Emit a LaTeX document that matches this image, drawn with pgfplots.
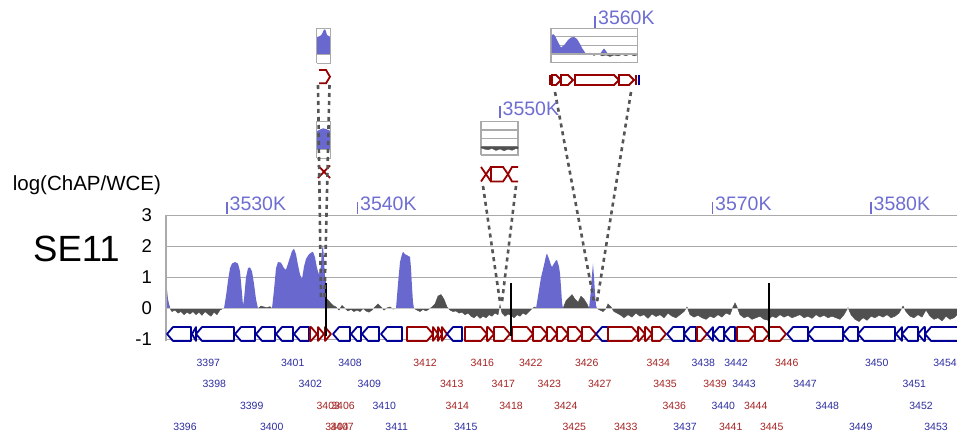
\documentclass[border=0pt]{standalone}
\usepackage{pgfplots}
\pgfplotsset{compat=1.18}
\usepackage{fontspec}
\setmainfont{Liberation Sans}
\definecolor{sigblue}{RGB}{104,104,206}
\definecolor{tickblue}{RGB}{110,110,210}
\definecolor{sigGray}{RGB}{80,80,80}
\definecolor{gblue}{RGB}{0,0,150}
\definecolor{gred}{RGB}{150,0,0}
\definecolor{lblue}{RGB}{45,45,160}
\definecolor{lred}{RGB}{165,35,35}
\definecolor{gridc}{RGB}{170,170,170}
\definecolor{dashc}{RGB}{85,85,85}
\newcommand{\gF}[2]{\pgfmathsetmacro{\hx}{max(#1,#2-6)}%
\addplot[gred,line width=1.8pt,fill=white,line join=round] coordinates {(#1,-0.6)(\hx,-0.6)(#2,-0.823)(\hx,-1.045)(#1,-1.045)} -- cycle;}
\newcommand{\gR}[2]{\pgfmathsetmacro{\hx}{min(#2,#1+6)}%
\addplot[gblue,line width=1.8pt,fill=white,line join=round] coordinates {(#2,-0.6)(\hx,-0.6)(#1,-0.823)(\hx,-1.045)(#2,-1.045)} -- cycle;}
\tikzset{lb/.style={text=lblue,inner sep=0pt,anchor=center,font=\fontsize{10.5}{11}\selectfont},
lr/.style={text=lred,inner sep=0pt,anchor=center,font=\fontsize{10.5}{11}\selectfont},
kl/.style={text=tickblue,inner sep=0pt,anchor=base west,font=\fontsize{19.5}{21}\selectfont}}
\begin{document}
\begin{tikzpicture}
\useasboundingbox (0,0) rectangle (957pt,441pt);
% ---------------- main track ----------------
\begin{axis}[at={(166pt,101.5pt)}, anchor=south west, scale only axis,
  width=791pt, height=124pt, xmin=166, xmax=957, ymin=-1, ymax=3, clip=false,
  axis line style={draw=none}, xtick=\empty, ytick={-1,0,1,2,3}, yticklabels={-1,0,1,2,3},
  major tick length=0pt, ymajorgrids, grid style={gridc,line width=1.3pt},
  yticklabel style={font=\fontsize{18.5}{20}\selectfont,anchor=east,inner sep=0pt,xshift=-14pt}]
% background signal (gray)
\addplot[fill=sigGray,draw=sigGray,line width=0.4pt] coordinates {
(166,0)(166,0.5)(168,0.2)(170,0)(172,-0.1)(175,-0.05)(178,-0.15)(181,-0.1)(184,-0.2)(187,-0.12)(190,-0.18)(193,-0.1)(196,-0.2)(199,-0.12)(202,-0.22)(205,-0.1)(208,-0.18)(211,-0.25)(214,-0.12)(217,-0.2)(220,-0.05)(223,0)
(258,0)(261,0.08)(264,0.05)(267,0.03)(270,0.06)(272,0)
(327,0)(327,0.3)(330,0.2)(333,0.1)(336,0.05)(339,-0.05)(342,0.1)(345,0)(348,-0.08)(351,-0.03)(354,-0.1)(357,-0.05)(360,-0.1)(363,0)(366,-0.08)(369,-0.12)(372,-0.05)(375,0.05)(378,0.15)(381,0.05)(384,-0.05)(387,0.02)(390,0.05)(393,-0.02)(396,0)
(414,0)(417,-0.05)(420,-0.1)(423,-0.03)(426,-0.08)(429,-0.02)(432,0.05)(435,0.15)(438,0.4)(441,0.45)(444,0.3)(447,0.05)(450,-0.05)(453,-0.1)(456,-0.08)(459,-0.15)(462,-0.12)(465,-0.2)(468,-0.15)(471,-0.25)(474,-0.3)(477,-0.22)(480,-0.32)(483,-0.25)(486,-0.3)(489,-0.2)(492,-0.25)(495,-0.15)(498,-0.2)(500,0.12)(502,-0.15)(505,-0.25)(508,-0.18)(511,-0.22)(514,-0.3)(517,-0.2)(520,-0.25)(523,-0.15)(526,-0.2)(529,-0.1)(532,0)(535,0.05)(536,0)
(563,0)(566,0.25)(569,0.35)(572,0.45)(575,0.3)(578,0.2)(581,0.4)(584,0.3)(587,0.15)(589,0)
(597,0)(600,-0.05)(603,-0.1)(606,0)(608,0.15)(611,0.05)(614,-0.1)(617,-0.15)(620,-0.2)
(624,-0.3)(628,-0.2)(632,-0.28)(636,-0.15)(640,-0.25)(644,-0.2)(648,-0.32)(652,-0.18)(656,-0.26)(660,-0.2)(664,-0.3)(668,-0.15)(672,-0.25)(676,-0.3)(680,-0.2)(684,-0.1)(687,0.05)(690,-0.2)(694,-0.28)(698,-0.22)(702,-0.3)(706,-0.35)(710,-0.25)(714,-0.3)(718,-0.2)(722,-0.28)(726,-0.15)(730,-0.2)(733,0.05)(735,0.18)(737,0.05)(740,-0.2)(744,-0.3)(748,-0.25)(752,-0.35)(756,-0.3)(760,-0.25)(764,-0.35)(768,-0.38)(772,-0.25)(776,-0.3)(780,-0.2)(784,-0.28)(788,-0.22)(792,-0.3)(796,-0.25)(800,-0.2)(804,-0.3)(808,-0.25)(812,-0.32)(816,-0.2)(820,-0.28)(824,-0.22)(828,-0.3)(832,-0.25)(836,-0.3)(840,-0.35)(844,-0.2)(848,0.03)(851,-0.2)(855,-0.35)(859,-0.42)(863,-0.3)(867,-0.38)(871,-0.25)(875,-0.3)(879,-0.22)(883,-0.28)(887,-0.2)(891,-0.3)(895,-0.25)(899,-0.15)(903,0.08)(906,-0.1)(910,-0.25)(914,-0.3)(918,-0.2)(922,-0.28)(926,-0.05)(930,-0.25)(934,-0.35)(938,-0.3)(942,-0.4)(946,-0.25)(950,-0.35)(954,-0.3)(957,-0.2)(957,0)} -- cycle;
% enriched peaks (blue)
\addplot[fill=sigblue,draw=none] coordinates {(166,0)(166,0.8)(167,0.6)(168,0.3)(170,0)} -- cycle;
\addplot[fill=sigblue,draw=none] coordinates {(224,0)(226,0.4)(228,0.9)(230,1.3)(232,1.45)(235,1.5)(238,1.45)(240,1.2)(242,0.5)(243,0.1)(244,0.3)(246,1.0)(248,1.3)(250,1.33)(252,1.2)(254,0.8)(256,0.3)(258,0)} -- cycle;
\addplot[fill=sigblue,draw=none] coordinates {(272,0)(274,0.6)(276,1.3)(278,1.5)(281,1.48)(284,1.3)(286,1.25)(289,1.55)(292,1.85)(294,1.93)(296,1.75)(298,1.4)(300,1.1)(302,0.95)(304,1.35)(306,1.6)(309,1.75)(311,1.8)(313,1.83)(315,1.65)(317,1.3)(319,1.1)(320,1.2)(321,1.4)(322,1.9)(323,2.05)(324,1.6)(325,1.0)(326,0.85)(327,0)} -- cycle;
\addplot[fill=sigblue,draw=none] coordinates {(396,0)(398,0.8)(400,1.5)(402,1.75)(403,1.83)(405,1.75)(407,1.72)(409,1.68)(410,1.67)(411,1.3)(412,0.7)(413,0.2)(414,0)} -- cycle;
\addplot[fill=sigblue,draw=none] coordinates {(536,0)(538,0.4)(541,1.0)(544,1.4)(546,1.7)(547,1.77)(549,1.6)(551,1.4)(552,1.34)(554,1.45)(556,1.55)(557,1.56)(559,1.35)(560,1.13)(561,0.7)(562,0.2)(563,0)} -- cycle;
\addplot[fill=sigblue,draw=none] coordinates {(589,0)(591,0.6)(592,1.1)(593,1.45)(594,1.0)(595,0.5)(596,0.1)(597,0)} -- cycle;
\addplot[gray!45,line width=1.5pt] coordinates {(166,0)(957,0)};
% axis line
\addplot[gridc,line width=1.3pt] coordinates {(166,-1.05)(166,3)};
% genes
\gR{167}{191}\gR{192}{196}\gR{196}{234}\gR{235}{255}\gR{256}{275}\gR{276}{293}\gR{294}{309}
\gF{310}{317}\gF{318}{324}\gF{325}{331}
\gR{333}{350}\gR{351}{361}\gR{362}{379}\gR{381}{402}
\gF{407}{433}\gF{433}{438}\gF{438}{442}\gF{442}{447}
\gR{447}{462}
\gF{465}{487}\gF{487}{494}\gF{494}{510}\gF{512}{533}\gF{533}{547}\gF{547}{557}\gF{557}{568}\gF{568}{582}\gF{582}{596}
\gR{596}{608}
\gF{608}{638}\gF{638}{645}\gF{645}{652}\gF{652}{666}
\gR{667}{684}\gR{684}{696}
\gF{697}{707}
\gR{707}{713}\gR{713}{724}\gR{724}{735}
\gF{737}{755}\gF{755}{769}\gF{769}{786}
\gR{787}{808}\gR{808}{843}\gR{843}{858}\gR{858}{895}\gR{896}{902}\gR{902}{918}\gR{918}{925}
\addplot[gblue,line width=1.8pt,fill=white,line join=round] coordinates {(957,-0.6)(931,-0.6)(925,-0.823)(931,-1.045)(957,-1.045)};
% marker lines
\addplot[black,line width=2pt] coordinates {(326,0.83)(326,-0.9)};
\addplot[black,line width=2pt] coordinates {(511,0.83)(511,-0.9)};
\addplot[black,line width=2pt] coordinates {(768.5,0.83)(768.5,-1.0)};
\end{axis}
% ---------------- overlay in pixel coordinates ----------------
\begin{axis}[at={(0pt,0pt)}, anchor=south west, scale only axis, width=957pt, height=441pt,
  xmin=0, xmax=957, ymin=0, ymax=441, y dir=reverse, hide axis, clip=false]
% inset 1 (top)
\addplot[fill=sigblue,draw=none] coordinates {(317,54.6)(317,37)(320,36)(322,34)(324,29.5)(325.5,30)(327,35)(330.5,37)(330.5,54.6)} -- cycle;
\addplot[gridc,line width=1.2pt] coordinates {(316.7,63.3)(316.7,28.3)(330.7,28.3)(330.7,63.3)(316.7,63.3)};
\addplot[gridc,line width=1.2pt] coordinates {(316.7,54.6)(330.7,54.6)};
\addplot[gred,line width=1.8pt] coordinates {(319,70)(326,70)(330,76.7)(326,83.3)(319,83.3)};
% inset 1b
\addplot[fill=sigblue,draw=none] coordinates {(317,149.2)(317,131)(320,129.5)(323,128.3)(326,129)(330.5,131)(330.5,149.2)} -- cycle;
\addplot[gridc,line width=1.2pt] coordinates {(316.7,158.3)(316.7,121.7)(330.7,121.7)(330.7,158.3)(316.7,158.3)};
\addplot[gridc,line width=1.2pt] coordinates {(316.7,149.2)(330.7,149.2)};
\addplot[gred,line width=1.8pt] coordinates {(318,165.5)(324,171.8)(318,178)};
\addplot[gred,line width=1.8pt] coordinates {(330,165.5)(324,171.8)(330,178)};
% inset 2
\addplot[gridc,line width=1.2pt] coordinates {(481,155)(481,121.7)(518,121.7)(518,155)(481,155)};
\addplot[gridc,line width=1.2pt] coordinates {(481,130)(518,130)};
\addplot[gridc,line width=1.2pt] coordinates {(481,138.3)(518,138.3)};
\addplot[gridc,line width=1.2pt] coordinates {(481,146.7)(518,146.7)};
\addplot[fill=sigGray,draw=sigGray,line width=0.3pt] coordinates {(481,146.7)(481,148)(484,149)(488,149.8)(492,148.5)(496,150.5)(500,149)(504,150.8)(508,149.2)(512,150.3)(516,148.6)(518,149)(518,146.7)} -- cycle;
\addplot[gred,line width=1.8pt] coordinates {(481,167)(486,174.2)(481,181.5)};
\addplot[gred,line width=1.8pt] coordinates {(491,167)(486,174.2)(491,181.5)};
\addplot[gred,line width=1.8pt,fill=white] coordinates {(491,167)(503,167)(508,174.2)(503,181.5)(491,181.5)} -- cycle;
\addplot[gred,line width=1.8pt] coordinates {(518,167)(512,167)(508,174.2)(512,181.5)(518,181.5)};
% inset 3
\addplot[gridc,line width=1.2pt] coordinates {(551,62.7)(551,28.3)(637.3,28.3)(637.3,62.7)(551,62.7)};
\addplot[gridc,line width=1.2pt] coordinates {(551,36.9)(637.3,36.9)};
\addplot[gridc,line width=1.2pt] coordinates {(551,45.5)(637.3,45.5)};
\addplot[fill=sigGray,draw=sigGray,line width=0.3pt] coordinates {(586,54.1)(590,53)(594,55.5)(598,53.5)(602,56)(606,55)(610,56.5)(614,55)(618,56)(622,54.5)(626,55.8)(630,54)(634,56)(637,55)(637,54.1)} -- cycle;
\addplot[fill=sigblue,draw=none] coordinates {(551.5,54.1)(551.5,36)(553,34)(555,36)(558,42)(561,47.5)(563,46)(565,44)(568,40)(571,37.5)(574,37)(577,39)(580,44)(582,48)(584,51)(586,54.1)} -- cycle;
\addplot[fill=sigblue,draw=none] coordinates {(600,54.1)(602,51)(604,48.5)(606,51)(608,54.1)} -- cycle;
\addplot[gridc,line width=1.2pt] coordinates {(551,54.1)(637.3,54.1)};
\addplot[gred,line width=1.8pt] coordinates {(550,75)(550,85)};
\addplot[gred,line width=1.8pt,fill=white] coordinates {(552,75)(556,75)(561,80)(556,85)(552,85)} -- cycle;
\addplot[gred,line width=1.8pt,fill=white] coordinates {(561,75)(568,75)(573,80)(568,85)(561,85)} -- cycle;
\addplot[gred,line width=1.8pt,fill=white] coordinates {(575,75)(614,75)(619,80)(614,85)(575,85)} -- cycle;
\addplot[gred,line width=1.8pt,fill=white] coordinates {(619,75)(629,75)(634,80)(629,85)(619,85)} -- cycle;
\addplot[gred,line width=1.8pt] coordinates {(636,75)(636,85)};
\addplot[gblue,line width=2pt] coordinates {(639,75)(639,85)};
% dashed connectors
\addplot[dashc,line width=2.6pt,dash pattern=on 4pt off 4pt] coordinates {(318,85)(321,300)};
\addplot[dashc,line width=2.6pt,dash pattern=on 4pt off 4pt] coordinates {(329.5,85)(324.5,300)};
\addplot[dashc,line width=2.6pt,dash pattern=on 4pt off 4pt] coordinates {(483,186)(500,302)};
\addplot[dashc,line width=2.6pt,dash pattern=on 4pt off 4pt] coordinates {(516,186)(502,302)};
\addplot[dashc,line width=2.6pt,dash pattern=on 4pt off 4pt] coordinates {(555,92)(594,302)};
\addplot[dashc,line width=2.6pt,dash pattern=on 4pt off 4pt] coordinates {(631,92)(597,302)};
% coordinate ticks
\addplot[tickblue,line width=1.6pt] coordinates {(226.7,202)(226.7,214)};
\addplot[tickblue,line width=1.6pt] coordinates {(357.3,202)(357.3,214)};
\addplot[tickblue,line width=1.6pt] coordinates {(712.3,202)(712.3,214)};
\addplot[tickblue,line width=1.6pt] coordinates {(870.7,202)(870.7,214)};
\addplot[tickblue,line width=1.6pt] coordinates {(500,106)(500,118)};
\addplot[tickblue,line width=1.6pt] coordinates {(595,16.5)(595,28.3)};
\node[kl] at (axis cs:229.5,210.5) {3530K};
\node[kl] at (axis cs:360,210.5) {3540K};
\node[kl] at (axis cs:715,210.5) {3570K};
\node[kl] at (axis cs:873.5,210.5) {3580K};
\node[kl] at (axis cs:502.5,115) {3550K};
\node[kl] at (axis cs:598,25) {3560K};
% titles
\node[anchor=base west,inner sep=0pt,font=\fontsize{20.5}{22}\selectfont] at (axis cs:12.7,190.5) {log(ChAP/WCE)};
\node[anchor=base west,inner sep=0pt,font=\fontsize{36.5}{40}\selectfont] at (axis cs:33,261.7) {SE11};
% gene labels
\node[lb] at (axis cs:208.3,363.3) {3397};
\node[lb] at (axis cs:292.7,363.3) {3401};
\node[lb] at (axis cs:350,363.3) {3408};
\node[lr] at (axis cs:425,363.3) {3412};
\node[lr] at (axis cs:482.3,363.3) {3416};
\node[lr] at (axis cs:530.7,363.3) {3422};
\node[lr] at (axis cs:586.7,363.3) {3426};
\node[lr] at (axis cs:658.3,363.3) {3434};
\node[lb] at (axis cs:703.3,363.3) {3438};
\node[lb] at (axis cs:736,363.3) {3442};
\node[lr] at (axis cs:786.7,363.3) {3446};
\node[lb] at (axis cs:876.7,363.3) {3450};
\node[lb] at (axis cs:945,363.3) {3454};
\node[lb] at (axis cs:214.3,384.3) {3398};
\node[lb] at (axis cs:310.3,384.3) {3402};
\node[lb] at (axis cs:369.3,384.3) {3409};
\node[lr] at (axis cs:451.7,384.3) {3413};
\node[lr] at (axis cs:503.3,384.3) {3417};
\node[lr] at (axis cs:549.3,384.3) {3423};
\node[lr] at (axis cs:599.7,384.3) {3427};
\node[lr] at (axis cs:665,384.3) {3435};
\node[lr] at (axis cs:715,384.3) {3439};
\node[lb] at (axis cs:744,384.3) {3443};
\node[lb] at (axis cs:805,384.3) {3447};
\node[lb] at (axis cs:914.3,384.3) {3451};
\node[lb] at (axis cs:251.7,406) {3399};
\node[lr] at (axis cs:328.3,406) {3403};
\node[lr] at (axis cs:343,406) {3406};
\node[lb] at (axis cs:384.3,406) {3410};
\node[lr] at (axis cs:457.3,406) {3414};
\node[lr] at (axis cs:511,406) {3418};
\node[lr] at (axis cs:565.7,406) {3424};
\node[lr] at (axis cs:674.3,406) {3436};
\node[lb] at (axis cs:723.3,406) {3440};
\node[lr] at (axis cs:755.7,406) {3444};
\node[lb] at (axis cs:827.3,406) {3448};
\node[lb] at (axis cs:921,406) {3452};
\node[lb] at (axis cs:185,427.3) {3396};
\node[lb] at (axis cs:271.7,427.3) {3400};
\node[lr] at (axis cs:337,427.3) {3404};
\node[lr] at (axis cs:342,427.3) {3407};
\node[lb] at (axis cs:396.7,427.3) {3411};
\node[lb] at (axis cs:465.7,427.3) {3415};
\node[lr] at (axis cs:574.3,427.3) {3425};
\node[lr] at (axis cs:625.7,427.3) {3433};
\node[lb] at (axis cs:685,427.3) {3437};
\node[lr] at (axis cs:730.7,427.3) {3441};
\node[lr] at (axis cs:771.7,427.3) {3445};
\node[lb] at (axis cs:860.7,427.3) {3449};
\node[lb] at (axis cs:936,427.3) {3453};
\end{axis}
\end{tikzpicture}
\end{document}
